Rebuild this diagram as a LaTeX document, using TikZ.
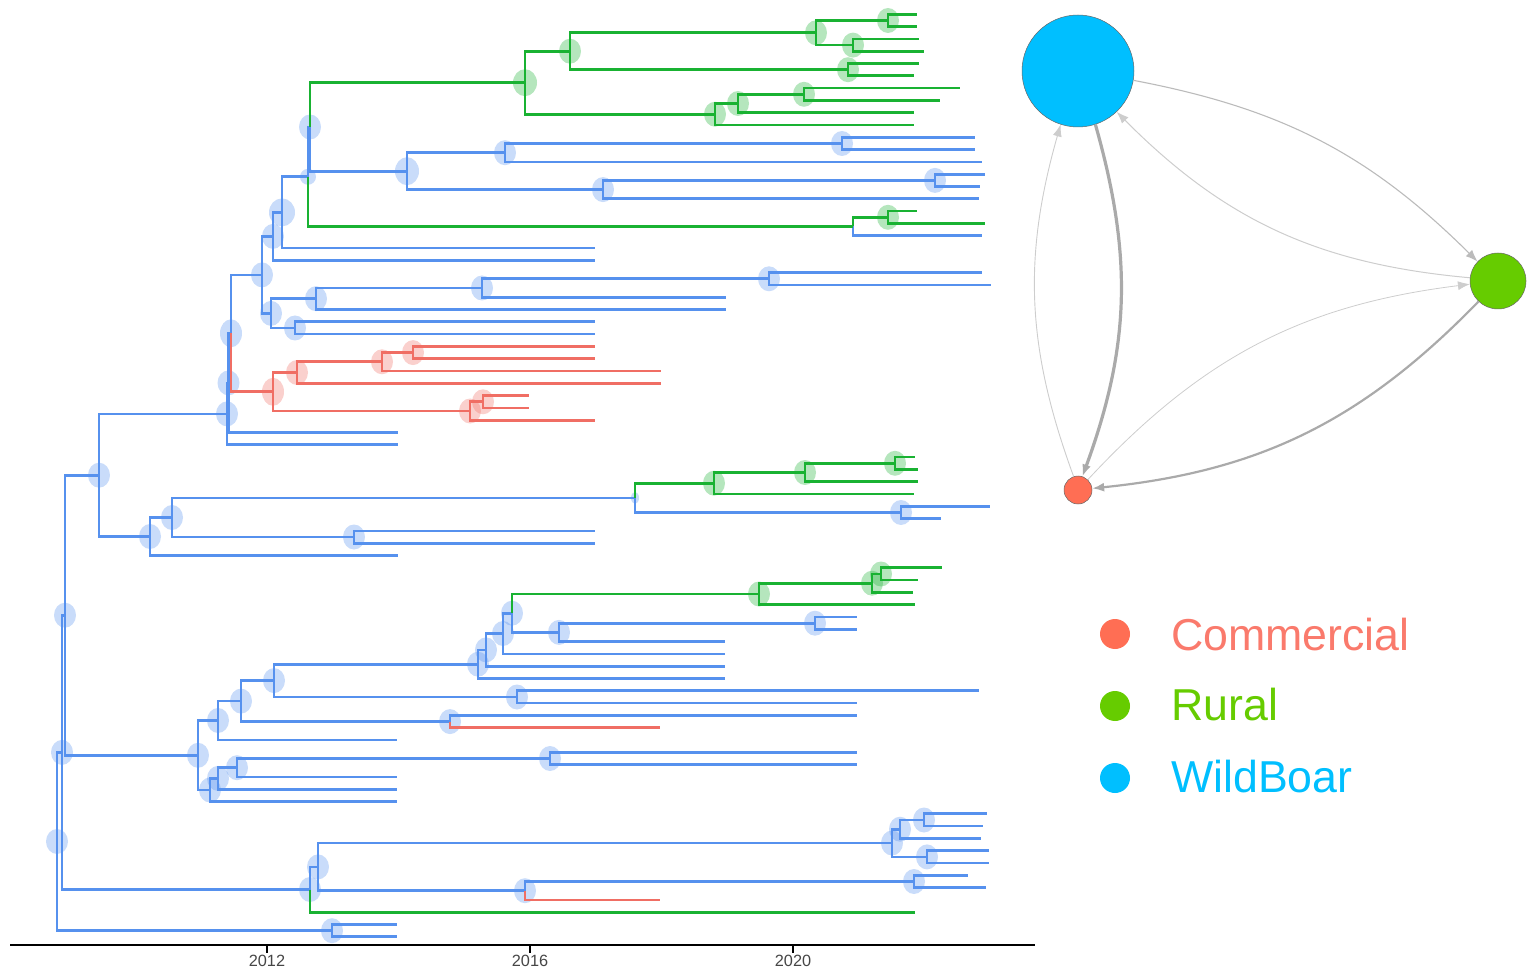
\documentclass[tikz,border=0pt]{standalone}
\usepackage{fontspec}
\setmainfont{Liberation Sans}
\usetikzlibrary{arrows.meta}

\definecolor{treeblue}{RGB}{86,145,238}
\definecolor{treegreen}{RGB}{25,178,50}
\definecolor{treered}{RGB}{240,110,100}
\definecolor{boarblue}{RGB}{0,191,255}
\definecolor{ruralgreen}{RGB}{102,204,0}
\definecolor{commred}{RGB}{255,110,84}
\definecolor{commtext}{RGB}{250,122,108}
\definecolor{flowgray}{RGB}{170,170,170}
\definecolor{flowlight}{RGB}{205,205,205}
\definecolor{axisgray}{RGB}{70,70,70}

\begin{document}
\begin{tikzpicture}[x=1pt, y=-1pt,
    bline/.style={treeblue, line width=2.7},
    gline/.style={treegreen, line width=2.7},
    rline/.style={treered, line width=2.7},
    bbub/.style={fill=treeblue, fill opacity=0.32},
    gbub/.style={fill=treegreen, fill opacity=0.32},
    rbub/.style={fill=treered, fill opacity=0.32},
    flow/.style={flowgray, -{Latex[length=12pt, width=9pt]}},
    state/.style={circle, draw=black!60, line width=0.5, inner sep=0},
    legtext/.style={anchor=base west, inner sep=0, font=\fontsize{44.7}{50}\selectfont}]
  \useasboundingbox (0,0) rectangle (1535,976);

  % Tips of the tree (one row every 12.3)
  \foreach \i/\t in {0/917, 1/917, 2/919, 3/924, 4/919, 5/914, 6/960, 7/940, 8/914, 9/914,
      10/975, 11/975, 12/982, 13/985, 14/980, 15/979, 16/917, 17/985, 18/982, 19/595,
      20/595, 21/982, 22/991, 23/726, 24/726, 25/595, 26/595, 27/595, 28/595, 29/661,
      30/661, 31/529, 32/529, 33/595, 34/398, 35/398, 36/915, 37/918, 38/918, 39/914,
      40/990, 41/941, 42/595, 43/595, 44/398, 45/942, 46/918, 47/913, 48/915, 49/857,
      50/857, 51/725, 52/725, 53/725, 54/725, 55/979, 56/857, 57/857, 58/660, 59/397,
      60/857, 61/857, 62/397, 63/397, 64/397, 65/987, 66/983, 67/981, 68/989, 69/989,
      70/968, 71/986, 72/660, 73/915, 74/397, 75/397}
    \coordinate (l\i) at (\t,{14.3+12.3*\i});

  % Inner nodes
  \foreach \n/\x/\y in {g1/888/20.5, g2/853/45.1, g3/816/32.8, g4/848/69.7, g5/570/51.2,
      g6/804/94.3, g7/738/103.5, g8/715/114.2, g9/525/82.7, b1/842/143.5, b2/505/152.7,
      b3/935/180.4, b4/603/189.6, b5/407/171.2, x1/310/127, g10/888/217.3, g11/853/226.5,
      x2/308/176.8, n281/282/212.4, n273/273/236.4, b6/769/278.8, b7/482/288, b8/316/298.7,
      b9/295/328, n271/271/313.4, n262/262/274.9, r1/413/352.6, r2/382/361.8, r3/297/372.5,
      r4/483/401.8, r5/470/411, r6/273/391.8, nP/231/333.3, nQ/228.5/382.9, nR/227/413.9,
      g12/895/463.3, g13/805/472.5, g14/714/483.2, b10/901/512.5, b11/635/497.9,
      b12/354/537, b13/172/517.5, b14/150/536.5, nS/99/475.2, g15/881/574, g16/872/583.2,
      g17/759/594, b15/815/623.2, b16/559/632.4, b17/512/613.2, b18/503/633.5,
      b19/486/649.9, b20/478/664.2, b21/517/697, b22/274/680.6, b23/450/721.6,
      b24/241/701.1, b25/218/720.5, b26/550/758.5, b27/237/767.7, b28/218/778.4,
      b29/210/790, nU/198/755.3, nT/65/615.2, b30/924/820, b31/900/829.2, b32/927/856.9,
      b33/892/843, b34/914/881.5, b35/525/890.7, b36/318/866.9, nW/310/889.5,
      nV/62/752.4, b37/332/930.7, root/57/841.5}
    \coordinate (\n) at (\x,\y);

  % Node bubbles
  \foreach \n in {b1, b2, b3, b4, x1, n273, n262, b6, b7, b8, b9, n271, nQ, nR, b10, b12,
      b13, b14, nS, b15, b16, b17, b18, b19, b20, b21, b22, b23, b24, b25, b26, b27, b28,
      b29, nU, nT, nV, root, b30, b31, b32, b33, b34, b35, b36, nW, b37}
    \fill[bbub] (\n) ellipse (11 and 12.5);
  \fill[bbub] (n281) ellipse (13 and 14);
  \fill[bbub] (b5) ellipse (12 and 14);
  \fill[bbub] (nP) ellipse (11 and 14);
  \fill[bbub] (x2) ellipse (8 and 8);
  \fill[bbub] (b11) ellipse (4 and 6);
  \foreach \n in {g1, g2, g3, g4, g5, g6, g7, g8, g10, g12, g13, g14, g15, g16, g17}
    \fill[gbub] (\n) ellipse (11 and 12.5);
  \fill[gbub] (g9) ellipse (12 and 13.5);
  \foreach \n in {r1, r2, r3, r4, r5}
    \fill[rbub] (\n) ellipse (11 and 12.5);
  \fill[rbub] (r6) ellipse (11 and 14);

  % Branches, coloured by the state of the child
  \foreach \p/\c in {b1/l10, b1/l11, b2/b1, b2/l12, b3/l13, b3/l14, b4/b3, b4/l15, b5/b2,
      b5/b4, x1/b5, x2/x1, g11/l18, n281/x2, n281/l19, n273/n281, n273/l20, b6/l21, b6/l22,
      b7/b6, b7/l23, b8/b7, b8/l24, b9/l25, b9/l26, n271/b8, n271/b9, n262/n273, n262/n271,
      nP/n262, nQ/nP, nQ/l34, nR/nQ, nR/l35, b10/l40, b10/l41, b11/b10, b12/l42, b12/l43,
      b13/b11, b13/b12, b14/b13, b14/l44, nS/nR, nS/b14, b15/l49, b15/l50, b16/b15,
      b16/l51, b17/b16, b18/b17, b18/l52, b19/b18, b19/l53, b20/b19, b20/l54, b21/l55,
      b21/l56, b22/b20, b22/b21, b23/l57, b24/b22, b24/b23, b25/b24, b25/l59, b26/l60,
      b26/l61, b27/b26, b27/l62, b28/b27, b28/l63, b29/b28, b29/l64, nU/b25, nU/b29,
      nT/nS, nT/nU, b30/l65, b30/l66, b31/b30, b31/l67, b32/l68, b32/l69, b33/b31,
      b33/b32, b34/l70, b34/l71, b35/b34, b36/b33, b36/b35, nW/b36, nV/nT, nV/nW,
      b37/l74, b37/l75, root/nV, root/b37}
    \draw[bline] (\p) |- (\c);
  \foreach \p/\c in {g1/l0, g1/l1, g2/l2, g2/l3, g3/g1, g3/g2, g4/l4, g4/l5, g5/g3, g5/g4,
      g6/l6, g6/l7, g7/g6, g7/l8, g8/g7, g8/l9, g9/g5, g9/g8, x1/g9, g10/l16, g10/l17,
      g11/g10, x2/g11, g12/l36, g12/l37, g13/g12, g13/l38, g14/g13, g14/l39, b11/g14,
      g15/l45, g15/l46, g16/g15, g16/l47, g17/g16, g17/l48, b17/g17, nW/l73}
    \draw[gline] (\p) |- (\c);
  \foreach \p/\c in {r1/l27, r1/l28, r2/r1, r2/l29, r3/r2, r3/l30, r4/l31, r4/l32, r5/r4,
      r5/l33, r6/r3, r6/r5, nP/r6, b23/l58, b35/l72}
    \draw[rline] (\p) |- (\c);

  % Time axis
  \draw[line width=2.6] (10,945) -- (1035,945);
  \foreach \x/\yr in {267/2012, 530/2016, 793/2020} {
    \draw[line width=1.4] (\x,945) -- (\x,953);
    \node[anchor=base, inner sep=0, text=axisgray, font=\fontsize{16.3}{18}\selectfont]
      (yr\yr) at (\x,966.7) {\yr};
  }

  % Transition network
  \node[state, fill=boarblue, minimum size=112] (wb) at (1078,71) {};
  \node[state, fill=ruralgreen, minimum size=56] (rur) at (1498,281) {};
  \node[state, fill=commred, minimum size=28] (com) at (1078,490) {};

  \draw[flow, line width=3.2] (wb) to[bend left=18] (com);
  \draw[flow, flowlight, line width=0.9] (com) to[bend left=18] (wb);
  \draw[flow, line width=1.1, draw=flowgray!80] (wb) to[bend left=17] (rur);
  \draw[flow, flowlight, line width=1.0] (rur) to[bend left=20] (wb);
  \draw[flow, flowlight, line width=0.8] (com) to[bend left=20] (rur);
  \draw[flow, line width=2.2] (rur) to[bend left=20] (com);

  % Legend
  \node[circle, fill=commred, minimum size=30, inner sep=0] (dotcom) at (1115,634) {};
  \node[circle, fill=ruralgreen, minimum size=30, inner sep=0] (dotrur) at (1115,706) {};
  \node[circle, fill=boarblue, minimum size=30, inner sep=0] (dotwb) at (1115,778) {};
  \node[legtext, text=commtext] (txtcom) at (1171,650) {Commercial};
  \node[legtext, text=ruralgreen] (txtrur) at (1171,720.7) {Rural};
  \node[legtext, text=boarblue] (txtwb) at (1171,792.7) {WildBoar};
\end{tikzpicture}
\end{document}
